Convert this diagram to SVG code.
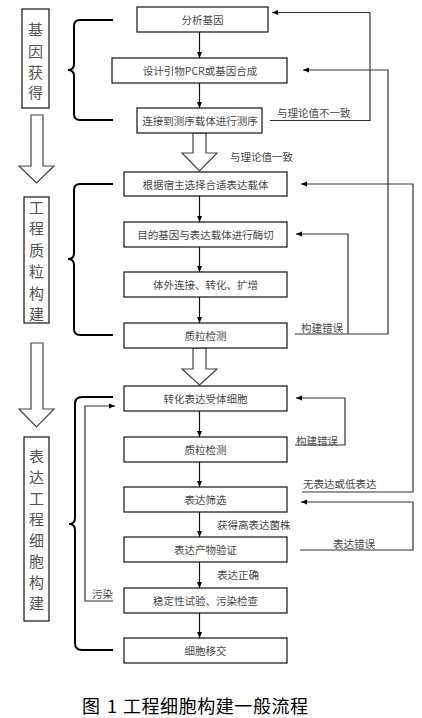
<svg xmlns="http://www.w3.org/2000/svg" width="422" height="718" viewBox="0 0 422 718">
<style>
.box{fill:#fff;stroke:#111;stroke-width:1.2}
.t{font-family:"Noto Sans CJK SC","Noto Sans",sans-serif;font-size:10.5px;fill:#4a4a4a;text-anchor:middle;dominant-baseline:central}
.l{font-family:"Noto Sans CJK SC","Noto Sans",sans-serif;font-size:10.5px;fill:#4a4a4a;dominant-baseline:central}
.side{font-family:"Noto Sans CJK SC","Noto Sans",sans-serif;font-size:15px;fill:#555;text-anchor:middle;dominant-baseline:central}
.flow{fill:none;stroke:#111;stroke-width:1.2}
.fb{fill:none;stroke:#333;stroke-width:1.2}
.brace{fill:none;stroke:#000;stroke-width:2}
.hollow{fill:#fff;stroke:#444;stroke-width:1.2}
.cap{font-family:"Noto Sans CJK SC","Noto Sans",sans-serif;font-size:18px;fill:#000;dominant-baseline:central}
</style>
<defs>
<marker id="ah" markerWidth="6" markerHeight="6" refX="6" refY="3" orient="auto" markerUnits="userSpaceOnUse">
<path d="M0,0.5 L6,3 L0,5.5 z" fill="#000"/>
</marker>
</defs>

<g id="side-labels">
<g id="side1"><rect class="box" x="22" y="9" width="27" height="99"/>
<text class="side" x="35.5" y="28">基</text><text class="side" x="35.5" y="50">因</text><text class="side" x="35.5" y="71">获</text><text class="side" x="35.5" y="91">得</text></g>
<g id="side2"><rect class="box" x="24" y="197" width="25" height="126"/>
<text class="side" x="36.5" y="206">工</text><text class="side" x="36.5" y="227">程</text><text class="side" x="36.5" y="249">质</text><text class="side" x="36.5" y="270">粒</text><text class="side" x="36.5" y="292">构</text><text class="side" x="36.5" y="313">建</text></g>
<g id="side3"><rect class="box" x="24" y="437" width="25" height="184"/>
<text class="side" x="36.5" y="455">表</text><text class="side" x="36.5" y="476">达</text><text class="side" x="36.5" y="497">工</text><text class="side" x="36.5" y="518">程</text><text class="side" x="36.5" y="539">细</text><text class="side" x="36.5" y="560">胞</text><text class="side" x="36.5" y="581">构</text><text class="side" x="36.5" y="602">建</text></g>
</g>

<g id="big-arrows">
<path class="hollow" d="M31,115 H43 V166 H54 L36.5,183 L19,166 H31 Z"/>
<path class="hollow" d="M31,343 H43 V409 H54 L36.5,427 L19,409 H31 Z"/>
<path class="hollow" d="M193,133 H206 V153 H217 L199.5,171 L182,153 H193 Z"/>
<path class="hollow" d="M193,348 H206 V369 H217 L199.5,385 L182,369 H193 Z"/>
</g>

<g id="braces">
<path class="brace" d="M113,20 H80 Q74,20 74,26 V64 Q74,70 68,70 Q74,70 74,76 V114 Q74,120 80,120 H113"/>
<path class="brace" d="M113,184 H80 Q74,184 74,190 V253 Q74,259 68,259 Q74,259 74,265 V329 Q74,335 80,335 H113"/>
<path class="brace" d="M113,397 H82 Q75,397 75,404 V518 Q75,524 69,524 Q75,524 75,530 V643 Q75,650 82,650 H113"/>
</g>

<g id="connectors">
<line class="flow" x1="199.5" y1="32" x2="199.5" y2="58" marker-end="url(#ah)"/>
<line class="flow" x1="199.5" y1="83" x2="199.5" y2="108" marker-end="url(#ah)"/>
<line class="flow" x1="199.5" y1="196" x2="199.5" y2="222" marker-end="url(#ah)"/>
<line class="flow" x1="199.5" y1="247" x2="199.5" y2="272" marker-end="url(#ah)"/>
<line class="flow" x1="199.5" y1="297" x2="199.5" y2="323" marker-end="url(#ah)"/>
<line class="flow" x1="199.5" y1="411" x2="199.5" y2="437" marker-end="url(#ah)"/>
<line class="flow" x1="199.5" y1="462" x2="199.5" y2="487" marker-end="url(#ah)"/>
<line class="flow" x1="199.5" y1="512" x2="199.5" y2="537" marker-end="url(#ah)"/>
<line class="flow" x1="199.5" y1="562" x2="199.5" y2="588" marker-end="url(#ah)"/>
<line class="flow" x1="199.5" y1="613" x2="199.5" y2="638" marker-end="url(#ah)"/>
<path class="fb" d="M270,120.5 H370 V12.5 H272" marker-end="url(#ah)"/>
<path class="fb" d="M295,334 H388 V70 H303" marker-end="url(#ah)"/>
<path class="fb" d="M348,334 V234 H296" marker-end="url(#ah)"/>
<path class="fb" d="M302,492 H413 V184 H301" marker-end="url(#ah)"/>
<path class="fb" d="M300,550 H413 V502 H301" marker-end="url(#ah)"/>
<path class="fb" d="M295,445 H345 V398 H296" marker-end="url(#ah)"/>
<path class="fb" d="M113,601 H85 V406 H115" marker-end="url(#ah)"/>
</g>

<g id="edge-labels">
<text class="l" x="277" y="112">与理论值不一致</text>
<text class="l" x="230" y="156">与理论值一致</text>
<text class="l" x="301" y="327">构建错误</text>
<text class="l" x="296" y="440">构建错误</text>
<text class="l" x="303" y="483">无表达或低表达</text>
<text class="l" x="217" y="524">获得高表达菌株</text>
<text class="l" x="333" y="543">表达错误</text>
<text class="l" x="217" y="574">表达正确</text>
<text class="l" x="92" y="593">污染</text>
</g>

<g id="n1"><rect class="box" x="137" y="7" width="131" height="25"/><text class="t" x="202.5" y="19.5">分析基因</text></g>
<g id="n2"><rect class="box" x="112" y="58" width="175" height="25"/><text class="t" x="200" y="70.5">设计引物PCR或基因合成</text></g>
<g id="n3"><rect class="box" x="137" y="108" width="125" height="25"/><text class="t" x="200" y="120.5">连接到测序载体进行测序</text></g>
<g id="n4"><rect class="box" x="124" y="172" width="163" height="24"/><text class="t" x="205.5" y="184">根据宿主选择合适表达载体</text></g>
<g id="n5"><rect class="box" x="124" y="222" width="163" height="25"/><text class="t" x="205.5" y="234.5">目的基因与表达载体进行酶切</text></g>
<g id="n6"><rect class="box" x="124" y="272" width="163" height="25"/><text class="t" x="205.5" y="284.5">体外连接、转化、扩增</text></g>
<g id="n7"><rect class="box" x="124" y="323" width="163" height="25"/><text class="t" x="205.5" y="335.5">质粒检测</text></g>
<g id="n8"><rect class="box" x="124" y="386" width="163" height="25"/><text class="t" x="205.5" y="398.5">转化表达受体细胞</text></g>
<g id="n9"><rect class="box" x="124" y="437" width="163" height="25"/><text class="t" x="205.5" y="449.5">质粒检测</text></g>
<g id="n10"><rect class="box" x="124" y="487" width="163" height="25"/><text class="t" x="205.5" y="499.5">表达筛选</text></g>
<g id="n11"><rect class="box" x="124" y="537" width="163" height="25"/><text class="t" x="205.5" y="549.5">表达产物验证</text></g>
<g id="n12"><rect class="box" x="124" y="588" width="163" height="25"/><text class="t" x="205.5" y="600.5">稳定性试验、污染检查</text></g>
<g id="n13"><rect class="box" x="124" y="638" width="163" height="25"/><text class="t" x="205.5" y="650.5">细胞移交</text></g>

<g id="caption">
<text class="cap" x="82" y="705">图</text>
<text class="cap" x="107" y="705" font-family="Liberation Serif, serif">1</text>
<text class="cap" x="123" y="705" textLength="185" lengthAdjust="spacing">工程细胞构建一般流程</text>
</g>
</svg>
